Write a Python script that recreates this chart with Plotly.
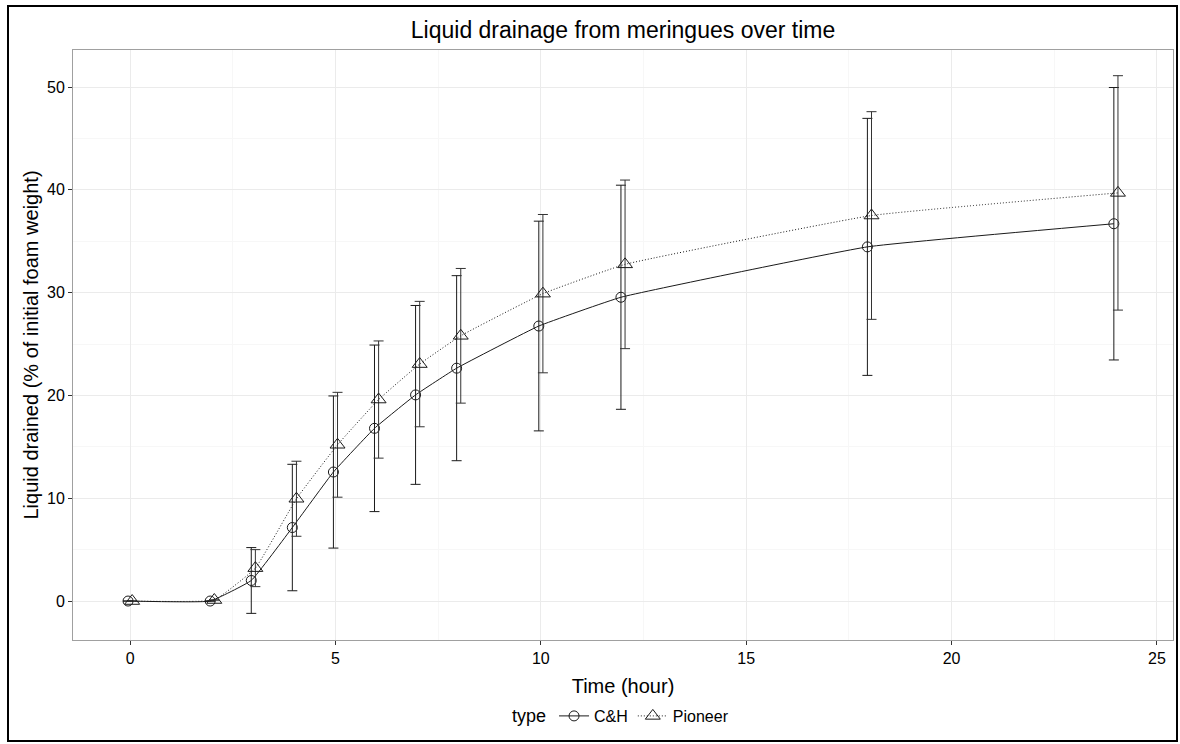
import plotly.graph_objects as go

# ---- data ----
time_hours = [0, 2, 3, 4, 5, 6, 7, 8, 10, 12, 18, 24]
ch_mean = [0, 0, 2.0, 7.15, 12.55, 16.8, 20.05, 22.65, 26.75, 29.55, 34.45, 36.7]
ch_sd = [0, 0, 3.2, 6.15, 7.4, 8.1, 8.7, 9.0, 10.2, 10.9, 12.5, 13.25]
pioneer_mean = [0, 0.1, 3.2, 9.95, 15.2, 19.6, 23.05, 25.8, 29.9, 32.75, 37.5, 39.7]
pioneer_sd = [0, 0, 1.8, 3.65, 5.1, 5.7, 6.1, 6.55, 7.7, 8.2, 10.1, 11.4]
x_ticks = [0, 5, 10, 15, 20, 25]
y_ticks = [0, 10, 20, 30, 40, 50]

# dodge (style)
DODGE = 0.05
x_ch = [t - DODGE for t in time_hours]
x_pi = [t + DODGE for t in time_hours]

FONT = "Liberation Sans, Arial, sans-serif"

fig = go.Figure()
fig.add_trace(go.Scatter(
    x=x_ch, y=ch_mean, name="C&H", mode="lines+markers",
    line=dict(color="#1a1a1a", width=1, shape="spline", smoothing=0.3),
    marker=dict(symbol="circle-open", size=10, color="#1a1a1a", line=dict(width=1)),
    error_y=dict(type="data", array=ch_sd, visible=True, color="#1a1a1a", thickness=1, width=5),
))
fig.add_trace(go.Scatter(
    x=x_pi, y=pioneer_mean, name="Pioneer", mode="lines+markers",
    line=dict(color="#1a1a1a", width=1, dash="1px,2px", shape="spline", smoothing=0.3),
    marker=dict(symbol="triangle-up-open", size=13, color="#1a1a1a", line=dict(width=1)),
    error_y=dict(type="data", array=pioneer_sd, visible=True, color="#333333", thickness=1, width=5),
))

W, H = 1180, 744
L, R, T, B = 73, 7, 50, 104
pw, ph = W - L - R, H - T - B

def px_x(p):
    return (p - L) / pw

def px_y(p):
    return (H - B - p) / ph

# outer black frame
fig.add_shape(type="rect", xref="paper", yref="paper",
              x0=px_x(8), x1=px_x(1177), y0=px_y(741), y1=px_y(6),
              line=dict(color="black", width=2), fillcolor="rgba(0,0,0,0)", layer="above")

axis_common = dict(
    showline=True, linecolor="#a0a0a0", linewidth=1, mirror=True,
    showgrid=True, gridcolor="#ebebeb", gridwidth=1,
    ticks="outside", ticklen=4, tickcolor="#333333", tickwidth=1,
    tickfont=dict(family=FONT, size=16, color="black"),
    zeroline=False,
)

fig.update_layout(
    width=W, height=H,
    margin=dict(l=L, r=R, t=T, b=B),
    paper_bgcolor="white", plot_bgcolor="white",
    font=dict(family=FONT, color="black"),
    title=dict(text="Liquid drainage from meringues over time", x=(L + pw / 2) / W, xanchor="center",
               y=1 - 30 / H, yanchor="middle", font=dict(size=23, family=FONT, color="black")),
    xaxis=dict(range=[-1.39, 25.39], tickvals=x_ticks, ticktext=[str(v) for v in x_ticks],
               minor=dict(dtick=2.5, tick0=2.5, showgrid=True, gridcolor="#f7f7f7", ticklen=0),
               title=dict(text="Time (hour)", font=dict(size=20, family=FONT, color="black"), standoff=12),
               **axis_common),
    yaxis=dict(range=[-3.79, 53.6], tickvals=y_ticks, ticktext=[str(v) for v in y_ticks],
               minor=dict(dtick=5, tick0=5, showgrid=True, gridcolor="#f7f7f7", ticklen=0),
               title=dict(text="Liquid drained (% of initial foam weight)", font=dict(size=20, family=FONT, color="black"), standoff=3),
               **axis_common),
    legend=dict(orientation="h", x=(622 - L) / pw, xanchor="center", y=px_y(716), yanchor="middle",
                title=dict(text="type", font=dict(size=18, family=FONT, color="black")),
                font=dict(size=16, family=FONT, color="black"), itemwidth=30,
                bgcolor="rgba(0,0,0,0)", tracegroupgap=0),
    showlegend=True,
)

fig.write_html("out.html")
